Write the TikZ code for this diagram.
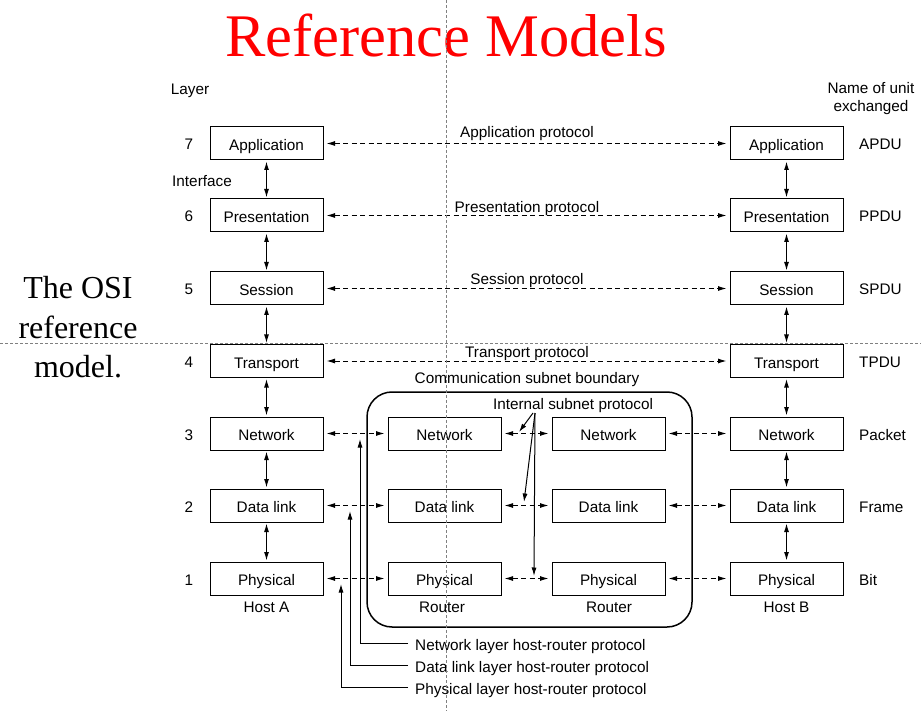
\documentclass[tikz,border=0pt]{standalone}
\usepackage{fontspec}
\setmainfont{Liberation Sans}
\newfontfamily\timesf{Liberation Serif}
\usetikzlibrary{arrows.meta}
\begin{document}
\begin{tikzpicture}[x=1pt,y=-1pt,
  tipA/.tip={Latex[length=8.5pt,width=5pt]},
  layerbox/.style={draw, line width=1pt, minimum width=113pt, minimum height=33pt, inner sep=0pt, text height=14.5pt, text depth=0pt, font=\fontsize{15.3}{18}\selectfont},
  lbl/.style={font=\fontsize{15.3}{18}\selectfont, inner sep=0pt, text height=13pt, text depth=0pt},
  peer/.style={dash pattern=on 5pt off 3.5pt, line width=1pt, shorten <=3pt, shorten >=3pt, tipA-tipA},
  iface/.style={line width=1.1pt, shorten <=1pt, shorten >=1pt, tipA-tipA},
  pointer/.style={line width=1pt, -tipA},
  legendtxt/.style={font=\fontsize{15.3}{18}\selectfont, inner sep=0pt, inner xsep=7pt, anchor=west, text height=13pt, text depth=0pt},
  guide/.style={gray, dash pattern=on 3pt off 2pt, line width=0.5pt}
]
\useasboundingbox (0,0) rectangle (921,711);

% title and side text
\node[red, font=\timesf\fontsize{60.5}{60}\selectfont, inner sep=0pt] (title) at (446,35) {Reference Models};
\node[font=\timesf\fontsize{32}{39.5}\selectfont, align=center, inner sep=0pt] (osi) at (78,327.5) {The OSI\\reference\\model.};

% headers
\node[lbl] (layerhdr) at (190,88) {Layer};
\node[lbl] (iface7) at (202,180) {Interface};
\node[inner sep=0pt, align=center, font=\fontsize{15.3}{18}\selectfont] (unithdr) at (871,99) {Name of unit\\exchanged};

% left host
\node[layerbox] (la) at (266.5,143.5) {Application};
\node[layerbox] (lp) at (266.5,215.5) {Presentation};
\node[layerbox] (ls) at (266.5,288.5) {Session};
\node[layerbox] (lt) at (266.5,361) {Transport};
\node[layerbox] (ln) at (266.5,433.5) {Network};
\node[layerbox] (ld) at (266.5,505.5) {Data link};
\node[layerbox] (lph) at (266.5,578.5) {Physical};
% right host
\node[layerbox] (ra) at (786.5,143.5) {Application};
\node[layerbox] (rp) at (786.5,215.5) {Presentation};
\node[layerbox] (rs) at (786.5,288.5) {Session};
\node[layerbox] (rt) at (786.5,361) {Transport};
\node[layerbox] (rn) at (786.5,433.5) {Network};
\node[layerbox] (rd) at (786.5,505.5) {Data link};
\node[layerbox] (rph) at (786.5,578.5) {Physical};
% routers
\node[layerbox] (an) at (444.5,433.5) {Network};
\node[layerbox] (ad) at (444.5,505.5) {Data link};
\node[layerbox] (aph) at (444.5,578.5) {Physical};
\node[layerbox] (bn) at (608.5,433.5) {Network};
\node[layerbox] (bd) at (608.5,505.5) {Data link};
\node[layerbox] (bph) at (608.5,578.5) {Physical};

% layer numbers
\node[lbl] (n7) at (189,143.5) {7};
\node[lbl] (n6) at (189,215.5) {6};
\node[lbl] (n5) at (189,288.5) {5};
\node[lbl] (n4) at (189,361) {4};
\node[lbl] (n3) at (189,433.5) {3};
\node[lbl] (n2) at (189,505.5) {2};
\node[lbl] (n1) at (189,578.5) {1};

% units
\node[lbl, anchor=west] (u7) at (859,143.5) {APDU};
\node[lbl, anchor=west] (u6) at (859,215.5) {PPDU};
\node[lbl, anchor=west] (u5) at (859,288.5) {SPDU};
\node[lbl, anchor=west] (u4) at (859,361) {TPDU};
\node[lbl, anchor=west] (u3) at (859,433.5) {Packet};
\node[lbl, anchor=west] (u2) at (859,505.5) {Frame};
\node[lbl, anchor=west] (u1) at (859,578.5) {Bit};

% captions
\node[lbl] (hosta) at (266.5,606) {Host A};
\node[lbl] (hostb) at (786.5,606) {Host B};
\node[lbl] (ra1) at (442,606) {Router};
\node[lbl] (ra2) at (609,606) {Router};

% subnet boundary
\draw[line width=1.5pt, rounded corners=25pt] (367,392) rectangle (692,627);
\node[lbl] (csb) at (527,377) {Communication subnet boundary};

% protocol labels
\node[lbl] (apl) at (527,131) {Application protocol};
\node[lbl] (ppl) at (527,206) {Presentation protocol};
\node[lbl] (spl) at (527,278) {Session protocol};
\node[lbl] (tpl) at (527,351) {Transport protocol};
\node[lbl] (isp) at (573,403) {Internal subnet protocol};

% interfaces
\foreach \a/\b in {la/lp,lp/ls,ls/lt,lt/ln,ln/ld,ld/lph,ra/rp,rp/rs,rs/rt,rt/rn,rn/rd,rd/rph}
  \draw[iface] (\a.south) -- (\b.north);

% peer protocols
\foreach \a/\b in {la/ra,lp/rp,ls/rs,lt/rt,ln/an,ld/ad,lph/aph,an/bn,ad/bd,aph/bph,bn/rn,bd/rd,bph/rph}
  \draw[peer] (\a.east) -- (\b.west);

% internal subnet protocol pointers
\coordinate (isrc1) at (533,413);
\coordinate (isrc2) at (535,413);
\coordinate (it1) at (519,432);
\coordinate (it2) at (524,502);
\coordinate (it3) at (534,576);
\draw[pointer] (isrc1) -- (it1);
\draw[pointer] (isrc2) -- (it2);
\draw[pointer] (isrc2) -- (it3);

% host-router protocol legend
\node[legendtxt] (hrn) at (408,643.5) {Network layer host-router protocol};
\node[legendtxt] (hrd) at (408,665.5) {Data link layer host-router protocol};
\node[legendtxt] (hrp) at (408,687.5) {Physical layer host-router protocol};
\coordinate (hrnt) at (360,439);
\coordinate (hrdt) at (350,511);
\coordinate (hrpt) at (341,584);
\draw[pointer] (hrn.west) -| (hrnt);
\draw[pointer] (hrd.west) -| (hrdt);
\draw[pointer] (hrp.west) -| (hrpt);

% slide guides
\draw[guide] (446,0) -- (446,711);
\draw[guide] (0,343) -- (921,343);
\end{tikzpicture}
\end{document}
